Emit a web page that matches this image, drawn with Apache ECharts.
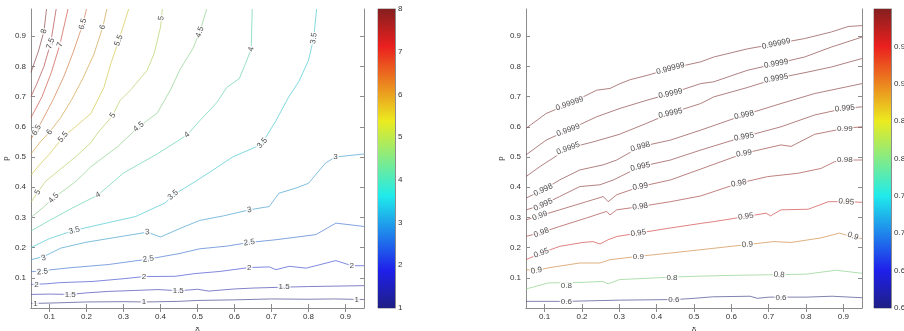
<!DOCTYPE html>
<html><head><meta charset="utf-8">
<script src="https://cdn.jsdelivr.net/npm/echarts@6/dist/echarts.min.js"></script>
<style>html,body{margin:0;padding:0;background:#fff;overflow:hidden}#c{width:904px;height:331px}</style>
</head><body><div id="c"></div>
<script>
// ---------- tick values ----------
const xTicks = [0.1,0.2,0.3,0.4,0.5,0.6,0.7,0.8,0.9];
const yTicks = [0.1,0.2,0.3,0.4,0.5,0.6,0.7,0.8,0.9];
const leftBarRange = [1, 8];
const rightBarRange = [0.6, 1];

// ---------- left panel contour lines [delta, p] ----------
const leftLevels = [1,1.5,2,2.5,3,3.5,4,4.5,5,5.5,6,6.5,7,7.5,8];
const L1 = [[0.05,0.015],[0.12,0.017],[0.2,0.02],[0.3,0.021],[0.36,0.02],[0.45,0.022],[0.5,0.025],[0.6,0.027],[0.7,0.03],[0.8,0.029],[0.87,0.03],[0.95,0.028]];
const L1_5 = [[0.05,0.045],[0.1,0.046],[0.156,0.045],[0.2,0.05],[0.26,0.055],[0.33,0.058],[0.393,0.061],[0.45,0.057],[0.5,0.062],[0.53,0.056],[0.6,0.063],[0.65,0.066],[0.734,0.069],[0.8,0.071],[0.95,0.074]];
const L2 = [[0.05,0.078],[0.09,0.08],[0.128,0.084],[0.218,0.088],[0.3,0.097],[0.355,0.104],[0.44,0.105],[0.493,0.114],[0.56,0.121],[0.64,0.134],[0.694,0.136],[0.712,0.127],[0.748,0.138],[0.794,0.132],[0.874,0.157],[0.917,0.14],[0.95,0.14]];
const L2_5 = [[0.05,0.12],[0.1,0.126],[0.153,0.133],[0.26,0.144],[0.367,0.162],[0.45,0.18],[0.506,0.196],[0.58,0.205],[0.64,0.217],[0.712,0.226],[0.82,0.243],[0.874,0.281],[0.95,0.27]];
const L3 = [[0.05,0.16],[0.084,0.17],[0.13,0.198],[0.2,0.218],[0.3,0.238],[0.364,0.251],[0.4,0.235],[0.45,0.262],[0.506,0.29],[0.57,0.305],[0.64,0.325],[0.694,0.336],[0.72,0.38],[0.766,0.397],[0.8,0.413],[0.846,0.48],[0.873,0.5],[0.95,0.51]];
const L3_5 = [[0.05,0.2],[0.1,0.23],[0.167,0.257],[0.271,0.286],[0.333,0.303],[0.413,0.348],[0.434,0.374],[0.493,0.418],[0.541,0.456],[0.595,0.5],[0.659,0.534],[0.675,0.546],[0.712,0.62],[0.747,0.7],[0.774,0.75],[0.8,0.82],[0.814,0.893],[0.822,0.99]];
const L4 = [[0.05,0.255],[0.1,0.29],[0.16,0.33],[0.231,0.374],[0.3,0.447],[0.391,0.51],[0.472,0.573],[0.506,0.62],[0.552,0.68],[0.579,0.73],[0.613,0.76],[0.63,0.81],[0.645,0.857],[0.648,0.99]];
const L4_5 = [[0.05,0.3],[0.08,0.33],[0.111,0.364],[0.172,0.42],[0.212,0.468],[0.284,0.534],[0.341,0.6],[0.391,0.645],[0.426,0.72],[0.453,0.79],[0.488,0.86],[0.506,0.914],[0.525,0.99]];
const L5 = [[0.05,0.35],[0.068,0.383],[0.09,0.42],[0.13,0.46],[0.17,0.5],[0.211,0.546],[0.23,0.579],[0.271,0.638],[0.291,0.688],[0.318,0.72],[0.364,0.787],[0.383,0.843],[0.4,0.93],[0.405,0.99]];
const L5_5 = [[0.05,0.44],[0.07,0.47],[0.1,0.51],[0.137,0.566],[0.17,0.6],[0.212,0.644],[0.247,0.73],[0.266,0.81],[0.287,0.886],[0.314,0.99]];
const L6 = [[0.05,0.51],[0.075,0.55],[0.1,0.582],[0.13,0.63],[0.16,0.69],[0.19,0.76],[0.22,0.84],[0.244,0.93],[0.255,0.99]];
const L6_5 = [[0.05,0.56],[0.065,0.589],[0.08,0.62],[0.11,0.69],[0.14,0.77],[0.165,0.85],[0.19,0.94],[0.2,0.99]];
const L7 = [[0.05,0.63],[0.08,0.7],[0.105,0.78],[0.128,0.872],[0.15,0.99]];
const L7_5 = [[0.05,0.7],[0.065,0.74],[0.085,0.8],[0.103,0.876],[0.118,0.99]];
const L8 = [[0.05,0.78],[0.07,0.85],[0.085,0.916],[0.092,0.99]];
const leftLines = [L1,L1_5,L2,L2_5,L3,L3_5,L4,L4_5,L5,L5_5,L6,L6_5,L7,L7_5,L8];

// contour labels: [text, delta, p, rotation]
const leftLabels = [
 ['8',0.085,0.916,75],['7.5',0.103,0.876,70],['7',0.128,0.872,70],['6.5',0.19,0.94,75],['6',0.244,0.93,70],['5.5',0.287,0.886,70],['5',0.402,0.96,80],['4.5',0.506,0.914,70],['4',0.645,0.857,75],['3.5',0.814,0.893,80],
 ['6.5',0.065,0.589,60],['6',0.1,0.582,55],['5.5',0.137,0.566,50],['5',0.271,0.638,55],['4.5',0.341,0.6,40],['4',0.472,0.573,40],['3.5',0.675,0.546,50],
 ['5',0.068,0.383,60],['4.5',0.111,0.364,45],['4',0.231,0.374,30],['3.5',0.434,0.374,40],['3.5',0.167,0.257,15],['3',0.364,0.251,5],['3',0.084,0.165,15],['3',0.64,0.325,10],['3',0.873,0.5,0],
 ['2.5',0.081,0.12,5],['2.5',0.367,0.162,8],['2.5',0.64,0.217,8],
 ['2',0.065,0.078,0],['2',0.355,0.104,0],['2',0.64,0.134,0],['2',0.917,0.14,0],
 ['1.5',0.156,0.045,0],['1.5',0.448,0.058,0],['1.5',0.734,0.069,0],
 ['1',0.062,0.015,0],['1',0.355,0.02,0],['1',0.93,0.028,0]
];

// ---------- right panel contour lines ----------
const rightLevels = [0.6,0.8,0.9,0.95,0.98,0.99,0.995,0.998,0.9995,0.9999,0.99999];
const R0_6 = [[0.05,0.022],[0.16,0.022],[0.3,0.026],[0.45,0.028],[0.5,0.032],[0.55,0.037],[0.65,0.039],[0.67,0.032],[0.7,0.036],[0.8,0.036],[0.87,0.039],[0.95,0.034]];
const R0_8 = [[0.05,0.063],[0.11,0.083],[0.2,0.085],[0.256,0.088],[0.27,0.08],[0.3,0.094],[0.4,0.1],[0.5,0.105],[0.6,0.108],[0.7,0.11],[0.8,0.112],[0.88,0.125],[0.95,0.115]];
const R0_9 = [[0.05,0.127],[0.078,0.124],[0.11,0.133],[0.194,0.149],[0.248,0.149],[0.275,0.16],[0.351,0.171],[0.437,0.182],[0.518,0.193],[0.643,0.21],[0.714,0.22],[0.76,0.217],[0.84,0.232],[0.89,0.248],[0.926,0.235],[0.95,0.23]];
const R0_95 = [[0.05,0.16],[0.091,0.182],[0.14,0.204],[0.202,0.217],[0.229,0.22],[0.248,0.212],[0.27,0.226],[0.294,0.237],[0.351,0.248],[0.437,0.265],[0.518,0.28],[0.553,0.286],[0.639,0.303],[0.693,0.314],[0.705,0.305],[0.733,0.325],[0.806,0.327],[0.86,0.352],[0.908,0.352],[0.95,0.35]];
const R0_98 = [[0.05,0.237],[0.091,0.25],[0.14,0.27],[0.212,0.298],[0.266,0.32],[0.275,0.308],[0.293,0.325],[0.356,0.336],[0.437,0.352],[0.518,0.371],[0.62,0.413],[0.697,0.435],[0.778,0.446],[0.84,0.462],[0.876,0.484],[0.904,0.49],[0.95,0.49]];
const R0_99 = [[0.05,0.292],[0.087,0.305],[0.14,0.325],[0.212,0.352],[0.257,0.369],[0.27,0.352],[0.293,0.375],[0.356,0.402],[0.437,0.424],[0.518,0.46],[0.634,0.512],[0.733,0.54],[0.76,0.535],[0.823,0.575],[0.904,0.595],[0.95,0.6]];
const R0_995 = [[0.05,0.325],[0.096,0.342],[0.14,0.369],[0.194,0.402],[0.248,0.408],[0.284,0.424],[0.356,0.468],[0.437,0.49],[0.518,0.523],[0.634,0.567],[0.733,0.6],[0.823,0.639],[0.904,0.661],[0.95,0.666]];
const R0_998 = [[0.05,0.364],[0.096,0.391],[0.14,0.424],[0.194,0.457],[0.257,0.474],[0.293,0.49],[0.356,0.534],[0.437,0.556],[0.518,0.589],[0.634,0.639],[0.733,0.677],[0.823,0.71],[0.95,0.743]];
const R0_9995 = [[0.05,0.435],[0.087,0.468],[0.163,0.529],[0.23,0.55],[0.3,0.575],[0.37,0.61],[0.437,0.645],[0.518,0.677],[0.553,0.699],[0.643,0.73],[0.72,0.76],[0.8,0.78],[0.868,0.798],[0.95,0.826]];
const R0_9999 = [[0.05,0.507],[0.104,0.556],[0.163,0.589],[0.239,0.633],[0.302,0.661],[0.374,0.688],[0.437,0.71],[0.518,0.743],[0.553,0.749],[0.643,0.787],[0.72,0.809],[0.796,0.831],[0.868,0.864],[0.95,0.897]];
const R0_99999 = [[0.05,0.595],[0.104,0.644],[0.167,0.677],[0.239,0.721],[0.275,0.727],[0.302,0.743],[0.329,0.756],[0.374,0.77],[0.437,0.793],[0.518,0.815],[0.553,0.831],[0.643,0.858],[0.72,0.875],[0.796,0.892],[0.868,0.914],[0.913,0.932],[0.95,0.935]];
const rightLines = [R0_6,R0_8,R0_9,R0_95,R0_98,R0_99,R0_995,R0_998,R0_9995,R0_9999,R0_99999];

const rightLabels = [
 ['0.99999',0.167,0.677,20],['0.9999',0.163,0.589,20],['0.9995',0.163,0.529,20],['0.998',0.096,0.391,25],['0.995',0.096,0.342,25],['0.99',0.087,0.305,20],['0.98',0.091,0.25,20],['0.95',0.091,0.182,20],['0.9',0.078,0.124,10],['0.8',0.158,0.075,0],['0.6',0.158,0.019,0],
 ['0.99999',0.437,0.793,15],['0.9999',0.437,0.71,12],['0.9995',0.437,0.645,12],['0.998',0.356,0.534,15],['0.995',0.356,0.468,12],['0.99',0.356,0.402,10],['0.98',0.356,0.336,8],['0.95',0.351,0.248,8],['0.9',0.351,0.171,0],['0.8',0.441,0.1,0],['0.6',0.446,0.026,0],
 ['0.99999',0.72,0.875,12],['0.9999',0.72,0.809,10],['0.9995',0.72,0.76,10],['0.998',0.634,0.639,12],['0.995',0.634,0.567,10],['0.99',0.634,0.512,8],['0.98',0.62,0.413,10],['0.95',0.639,0.303,8],['0.9',0.643,0.21,5],['0.8',0.728,0.11,-5],['0.6',0.733,0.034,0],
 ['0.995',0.904,0.661,5],['0.99',0.904,0.595,0],['0.98',0.904,0.49,0],['0.95',0.908,0.352,-5],['0.9',0.926,0.238,-20]
];

// ---------- styling helpers ----------
function clamp(v){return Math.max(0,Math.min(1,v));}
function jetRGB(t){
  return [clamp(1.5-Math.abs(4*t-3)), clamp(1.5-Math.abs(4*t-2)), clamp(1.5-Math.abs(4*t-1))];
}
function lineColor(t){
  const c=jetRGB(t).map(v=>v*255*0.55+150*0.45);
  return 'rgb('+c.map(Math.round).join(',')+')';
}
function barColor(t){
  const c=jetRGB(t).map(v=>(v*0.8+0.12)*255);
  return 'rgb('+c.map(Math.round).join(',')+')';
}
const FONT = 'Liberation Sans';
const AX = '#8c8c8c';
const TXT = '#333';

const chart = echarts.init(document.getElementById('c'), null, {renderer:'canvas'});

function panelAxes(gridIndex){
  const common = {gridIndex, type:'value', min:0.05, max:0.95, splitLine:{show:false},
    axisLine:{lineStyle:{color:AX,width:1}},
    axisTick:{inside:true,length:4,lineStyle:{color:AX},customValues:xTicks}};
  const ycommon = {gridIndex, type:'value', min:0, max:0.99, splitLine:{show:false},
    axisLine:{lineStyle:{color:AX,width:1}},
    axisTick:{inside:true,length:4,lineStyle:{color:AX},customValues:yTicks}};
  return {
    x:[Object.assign({}, common, {position:'bottom', name:'δ', nameLocation:'middle', nameGap:17,
        nameTextStyle:{fontSize:8,color:TXT,fontFamily:FONT},
        axisLabel:{customValues:xTicks,fontSize:8,color:TXT,fontFamily:FONT,margin:5,formatter:v=>v.toFixed(1)}}),
       Object.assign({}, common, {position:'top', axisLabel:{show:false}})],
    y:[Object.assign({}, ycommon, {position:'left', name:'p', nameLocation:'middle', nameGap:21, nameRotate:90,
        nameTextStyle:{fontSize:8,color:TXT,fontFamily:FONT},
        axisLabel:{customValues:yTicks,fontSize:8,color:TXT,fontFamily:FONT,margin:5,formatter:v=>v.toFixed(1)}}),
       Object.assign({}, ycommon, {position:'right', axisLabel:{show:false}})]
  };
}
const pL = panelAxes(0), pR = panelAxes(2);

function barGradient(){
  const stops=[];
  for(let i=0;i<=16;i++){const t=i/16; stops.push({offset:t,color:barColor(t)});}
  return new echarts.graphic.LinearGradient(0,1,0,0,stops);
}

const series = [];
leftLines.forEach((d,i)=>{
  const t=(leftLevels[i]-leftBarRange[0])/(leftBarRange[1]-leftBarRange[0]);
  series.push({type:'line',xAxisIndex:0,yAxisIndex:0,data:d,symbol:'none',silent:true,z:2,
    lineStyle:{color:lineColor(t),width:0.8,opacity:0.85}});
});
rightLines.forEach((d,i)=>{
  const t=(rightLevels[i]-rightBarRange[0])/(rightBarRange[1]-rightBarRange[0]);
  series.push({type:'line',xAxisIndex:2,yAxisIndex:2,data:d,symbol:'none',silent:true,z:2,
    lineStyle:{color:lineColor(t),width:0.8,opacity:0.85}});
});
function labelSeries(list,xi,yi){
  return {type:'scatter',xAxisIndex:xi,yAxisIndex:yi,symbolSize:0,silent:true,z:5,
    label:{show:true,position:'inside',fontSize:8,color:'#222',fontFamily:FONT,backgroundColor:'#fff',padding:[0,1]},
    data:list.map(l=>({value:[l[1],l[2]],label:{formatter:l[0],rotate:l[3]}}))};
}
series.push(labelSeries(leftLabels,0,0));
series.push(labelSeries(rightLabels,2,2));
// colorbars
series.push({type:'bar',xAxisIndex:4,yAxisIndex:4,data:[leftBarRange[1]],barWidth:'100%',silent:true,itemStyle:{color:barGradient()}});
series.push({type:'bar',xAxisIndex:5,yAxisIndex:5,data:[rightBarRange[1]],barWidth:'100%',silent:true,itemStyle:{color:barGradient()}});

const option = {
  animation:false,
  backgroundColor:'#fff',
  grid:[
    {left:31,top:9,width:333,height:299,outerBoundsMode:'none'},
    {left:378,top:9,width:17,height:299,show:true,borderColor:AX,borderWidth:1,outerBoundsMode:'none'},
    {left:526,top:9,width:336,height:299,outerBoundsMode:'none'},
    {left:874,top:9,width:17,height:299,show:true,borderColor:AX,borderWidth:1,outerBoundsMode:'none'}
  ],
  xAxis:[pL.x[0],pL.x[1],pR.x[0],pR.x[1],
    {gridIndex:1,type:'category',data:[''],show:false},
    {gridIndex:3,type:'category',data:[''],show:false}],
  yAxis:[pL.y[0],pL.y[1],pR.y[0],pR.y[1],
    {gridIndex:1,type:'value',position:'right',min:leftBarRange[0],max:leftBarRange[1],interval:1,splitLine:{show:false},
      axisLine:{show:true,lineStyle:{color:AX}},axisTick:{inside:true,length:3,lineStyle:{color:'#555'}},
      axisLabel:{fontSize:8,color:TXT,fontFamily:FONT,margin:3}},
    {gridIndex:3,type:'value',position:'right',min:rightBarRange[0],max:rightBarRange[1],interval:0.05,splitLine:{show:false},
      axisLine:{show:true,lineStyle:{color:AX}},axisTick:{inside:true,length:3,lineStyle:{color:'#555'}},
      axisLabel:{fontSize:8,color:TXT,fontFamily:FONT,margin:3,showMaxLabel:false,formatter:v=>String(+v.toFixed(2))}}],
  series
};
chart.setOption(option);
</script></body></html>
